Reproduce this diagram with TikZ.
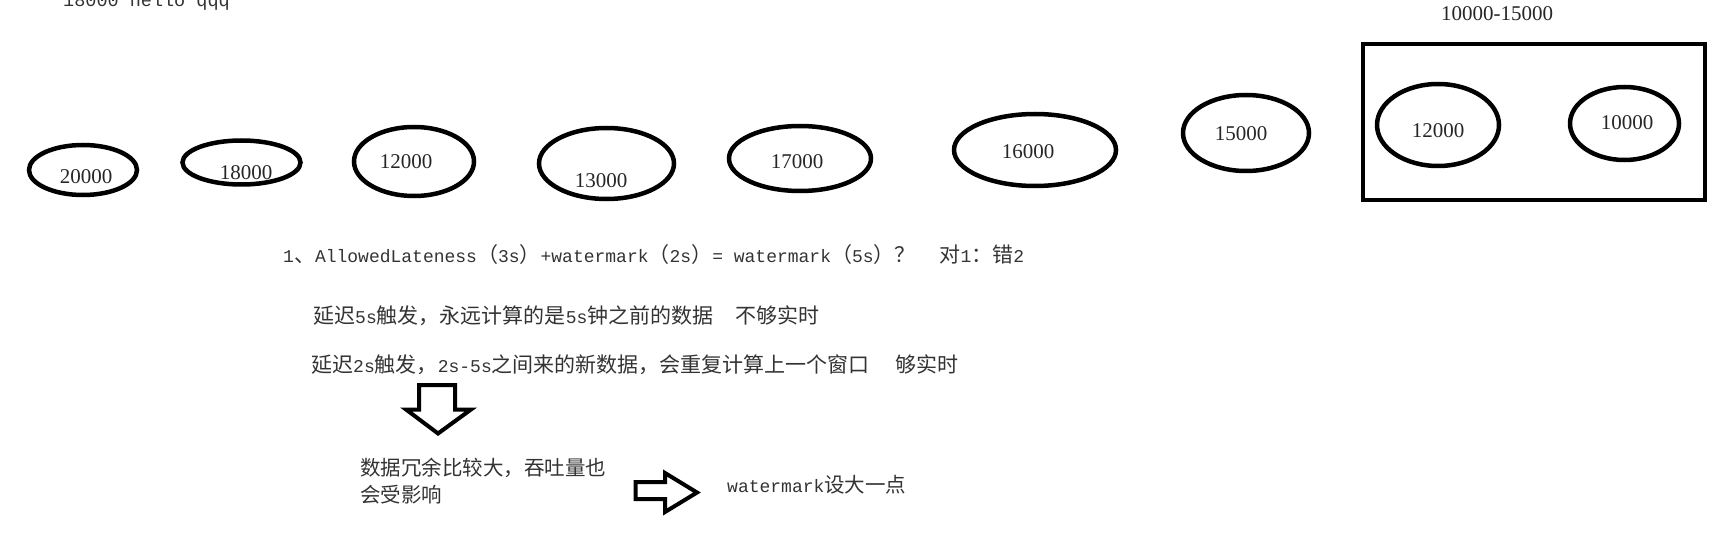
\documentclass[tikz,border=0pt]{standalone}
\usepackage{fontspec}
\setmainfont{Liberation Serif}
\newfontfamily\cjk{Noto Sans CJK SC}
\newfontfamily\monofam{Liberation Mono}
\usetikzlibrary{shapes.geometric}
\newcommand\zh[1]{{\cjk\fontsize{20.5pt}{27pt}\selectfont #1}}
\newcommand\zhb[1]{{\cjk\fontsize{21pt}{27pt}\selectfont #1}}
\newcommand\lat[1]{{\monofam\fontsize{18pt}{27pt}\selectfont #1}}
\begin{document}
\begin{tikzpicture}[x=1pt,y=-1pt,
  bubble/.style={ellipse, draw=black, line width=4.5pt, inner sep=0pt},
  num/.style={anchor=base, inner sep=0pt, font=\fontsize{21pt}{24pt}\selectfont, text=black!85},
  txt/.style={anchor=base west, inner sep=0pt, text=black!80},
  winbox/.style={draw=black, line width=4.5pt, inner sep=0pt},
  blockarrow/.style={draw=black, line width=4pt, line join=miter}
]
\useasboundingbox (0,0) rectangle (1720,548);

% top clipped text
\node[txt] (top) at (63,7) {{\monofam\fontsize{18.5pt}{24pt}\selectfont 18000 hello qqq}};

% event ellipses
\node[bubble, minimum width=108pt, minimum height=50pt] (e1) at (83,170) {};
\node[num] (n1) at (86,183) {20000};
\node[bubble, minimum width=118pt, minimum height=44pt] (e2) at (241.5,162.5) {};
\node[num] (n2) at (246,179) {18000};
\node[bubble, minimum width=120pt, minimum height=69pt] (e3) at (414,161.5) {};
\node[num] (n3) at (406,168) {12000};
\node[bubble, minimum width=135pt, minimum height=71pt] (e4) at (606.5,163.5) {};
\node[num] (n4) at (601,187) {13000};
\node[bubble, minimum width=142pt, minimum height=65pt] (e5) at (800,158.5) {};
\node[num] (n5) at (797,168) {17000};
\node[bubble, minimum width=162pt, minimum height=72pt] (e6) at (1035,150) {};
\node[num] (n6) at (1028,159) {16000};
\node[bubble, minimum width=126pt, minimum height=76pt] (e7) at (1246,133) {};
\node[num] (n7) at (1241,141) {15000};

% window
\node[winbox, minimum width=342pt, minimum height=156pt] (win) at (1534,122) {};
\node[num] (wtitle) at (1497,21) {10000-15000};
\node[bubble, minimum width=122pt, minimum height=82pt] (e8) at (1438,125) {};
\node[num] (n8) at (1438,138) {12000};
\node[bubble, minimum width=109pt, minimum height=73pt] (e9) at (1624.5,123.5) {};
\node[num] (n9) at (1627,130) {10000};

% text lines
\node[txt] (l1) at (283,262) {\lat{1}\zhb{、}\lat{AllowedLateness}\zhb{（}\lat{3s}\zhb{）}\lat{+watermark}\zhb{（}\lat{2s}\zhb{）}\lat{= watermark}\zhb{（}\lat{5s}\zhb{）？}\hspace{24pt}\zhb{对}\lat{1}\zhb{：错}\lat{2}};
\node[txt] (l2) at (313,323) {\zhb{延迟}\lat{5s}\zhb{触发，永远计算的是}\lat{5s}\zhb{钟之前的数据}\hspace{22pt}\zhb{不够实时}};
\node[txt] (l3) at (311,372) {\zhb{延迟}\lat{2s}\zhb{触发，}\lat{2s-5s}\zhb{之间来的新数据，会重复计算上一个窗口}\hspace{26pt}\zhb{够实时}};

% down block arrow
\draw[blockarrow] (419,385) -- (455,385) -- (455,409.5) -- (471,409.5) -- (438,433.5) -- (406,409.5) -- (419,409.5) -- cycle;

\node[txt, align=left, font=\cjk\fontsize{20.5pt}{27pt}\selectfont] (b1) at (360,502) {数据冗余比较大，吞吐量也\\会受影响};

% right block arrow
\draw[blockarrow] (635.5,482) -- (665,482) -- (665,473) -- (697,492.5) -- (665,512) -- (665,499) -- (635.5,499) -- cycle;

\node[txt] (b2) at (727,492) {\lat{watermark}\zh{设大一点}};
\end{tikzpicture}
\end{document}
